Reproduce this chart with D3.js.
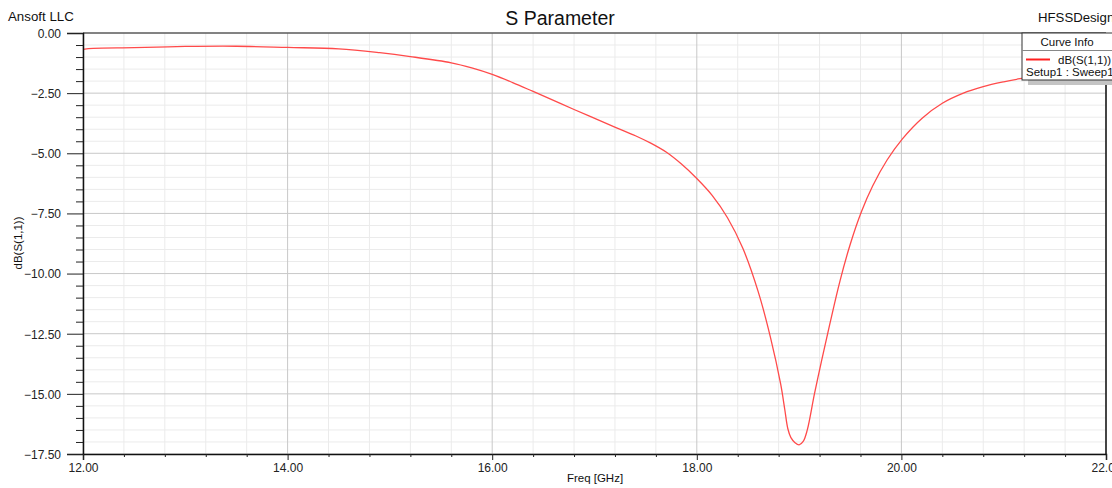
<!DOCTYPE html>
<html><head><meta charset="utf-8">
<script src="https://cdn.jsdelivr.net/npm/d3@7"></script>
<style>body{margin:0;background:#fff;overflow:hidden}svg{display:block;font-family:"Liberation Sans",Arial,sans-serif}</style>
</head><body><svg id="c" width="1112" height="488"></svg>
<script>
const freq = [12.00,12.10,12.50,13.00,13.50,14.00,14.50,14.90,15.20,15.60,15.80,16.00,16.20,16.40,16.80,17.21,17.40,17.55,17.70,17.85,18.00,18.15,18.30,18.45,18.60,18.72,18.82,18.86,18.89,18.92,18.96,19.00,19.04,19.08,19.15,19.22,19.30,19.40,19.50,19.61,19.72,19.86,20.01,20.20,20.40,20.60,20.80,21.00,21.16,21.50,22.00];
const s11 = [-0.68,-0.64,-0.61,-0.56,-0.55,-0.60,-0.66,-0.82,-0.98,-1.24,-1.45,-1.72,-2.06,-2.43,-3.18,-3.93,-4.27,-4.58,-4.95,-5.45,-6.05,-6.75,-7.68,-8.95,-10.75,-12.65,-14.60,-15.65,-16.45,-16.82,-17.03,-17.12,-16.98,-16.50,-15.00,-13.62,-12.10,-10.30,-8.78,-7.42,-6.35,-5.28,-4.40,-3.55,-2.92,-2.51,-2.23,-2.03,-1.90,-1.70,-1.50];
const xTicks = [12,14,16,18,20,22];
const yTicks = [0,-2.5,-5,-7.5,-10,-12.5,-15,-17.5];
const title = "S Parameter", xLabel = "Freq [GHz]", yLabel = "dB(S(1,1))";

const svg = d3.select("#c");
const L=83,R=1106,T=33,B=454;
const x = d3.scaleLinear().domain([12,22]).range([L,R]);
const y = d3.scaleLinear().domain([0,-17.5]).range([T,B]);

const g = svg.append("g");
const xMinor = d3.range(12,22.001,0.4).filter(v=>Math.abs(v/2-Math.round(v/2))>1e-6);
const yMinor = d3.range(0,-17.501,-0.5).filter(v=>Math.abs(v/2.5-Math.round(v/2.5))>1e-6);
g.selectAll(".xm").data(xMinor).enter().append("line").attr("x1",d=>x(d)).attr("x2",d=>x(d)).attr("y1",T).attr("y2",B).attr("stroke","#ebebeb").attr("stroke-width",1);
g.selectAll(".ym").data(yMinor).enter().append("line").attr("y1",d=>y(d)).attr("y2",d=>y(d)).attr("x1",L).attr("x2",R).attr("stroke","#ebebeb").attr("stroke-width",1);
g.selectAll(".xM").data(xTicks).enter().append("line").attr("x1",d=>x(d)).attr("x2",d=>x(d)).attr("y1",T).attr("y2",B).attr("stroke","#c8c8c8").attr("stroke-width",1);
g.selectAll(".yM").data(yTicks).enter().append("line").attr("y1",d=>y(d)).attr("y2",d=>y(d)).attr("x1",L).attr("x2",R).attr("stroke","#c8c8c8").attr("stroke-width",1);

const line = d3.line().x((d,i)=>x(freq[i])).y(d=>y(d)).curve(d3.curveCatmullRom.alpha(0.5));
svg.append("path").datum(s11).attr("d",line).attr("fill","none").attr("stroke","#ff4a4a").attr("stroke-width",1.3);

svg.append("line").attr("x1",L).attr("x2",R).attr("y1",T).attr("y2",T).attr("stroke","#222");
svg.append("line").attr("x1",R).attr("x2",R).attr("y1",T).attr("y2",B).attr("stroke","#111").attr("stroke-width",1.5);

const yAxis = d3.axisLeft(y).tickValues(yTicks).tickFormat(d3.format(".2f")).tickSize(16).tickPadding(6);
const ya = svg.append("g").attr("transform",`translate(${L},0)`).call(yAxis);
const yAxisMinor = d3.axisLeft(y).tickValues(yMinor).tickFormat("").tickSize(7);
svg.append("g").attr("transform",`translate(${L},0)`).call(yAxisMinor).select(".domain").remove();
const xAxis = d3.axisBottom(x).tickValues(xTicks).tickFormat(d3.format(".2f")).tickSize(6).tickPadding(3);
const xa = svg.append("g").attr("transform",`translate(0,${B})`).call(xAxis);
const xAxisMinor = d3.axisBottom(x).tickValues(xMinor).tickFormat("").tickSize(3);
svg.append("g").attr("transform",`translate(0,${B})`).call(xAxisMinor).select(".domain").remove();
svg.selectAll(".domain").attr("stroke","#111").attr("stroke-width",1.5);
svg.selectAll(".tick line").attr("stroke","#222");
svg.selectAll(".tick text").attr("font-size",12).attr("fill","#222").attr("font-family","Liberation Sans, Arial, sans-serif");
ya.selectAll(".tick text").attr("dy","0.36em");

svg.append("text").attr("x",560).attr("y",25).attr("text-anchor","middle").attr("font-size",19.5).attr("fill","#111").text(title);
svg.append("text").attr("x",8).attr("y",21).attr("font-size",13.3).attr("fill","#111").text("Ansoft LLC");
svg.append("text").attr("x",1038).attr("y",22).attr("font-size",13.2).attr("fill","#111").text("HFSSDesign1");
svg.append("text").attr("x",595).attr("y",482).attr("text-anchor","middle").attr("font-size",11.5).attr("fill","#111").text(xLabel);
svg.append("text").attr("transform","translate(22,243) rotate(-90)").attr("text-anchor","middle").attr("font-size",11.5).attr("fill","#111").text(yLabel);

const lg = svg.append("g");
lg.append("rect").attr("x",1028).attr("y",39).attr("width",100).attr("height",46).attr("fill","#c4c4c4");
lg.append("rect").attr("x",1022).attr("y",33).attr("width",100).attr("height",47).attr("fill","#fff").attr("stroke","#333").attr("stroke-width",1);
lg.append("line").attr("x1",1022).attr("x2",1112).attr("y1",50.5).attr("y2",50.5).attr("stroke","#888");
lg.append("text").attr("x",1067).attr("y",46).attr("text-anchor","middle").attr("font-size",11.5).attr("fill","#111").text("Curve Info");
lg.append("line").attr("x1",1026).attr("x2",1050).attr("y1",59.5).attr("y2",59.5).attr("stroke","#ff2020").attr("stroke-width",2);
lg.append("text").attr("x",1058).attr("y",63.5).attr("font-size",11.5).attr("fill","#111").text("dB(S(1,1))");
lg.append("text").attr("x",1026).attr("y",75.5).attr("font-size",11.5).attr("fill","#111").text("Setup1 : Sweep1");
</script></body></html>
